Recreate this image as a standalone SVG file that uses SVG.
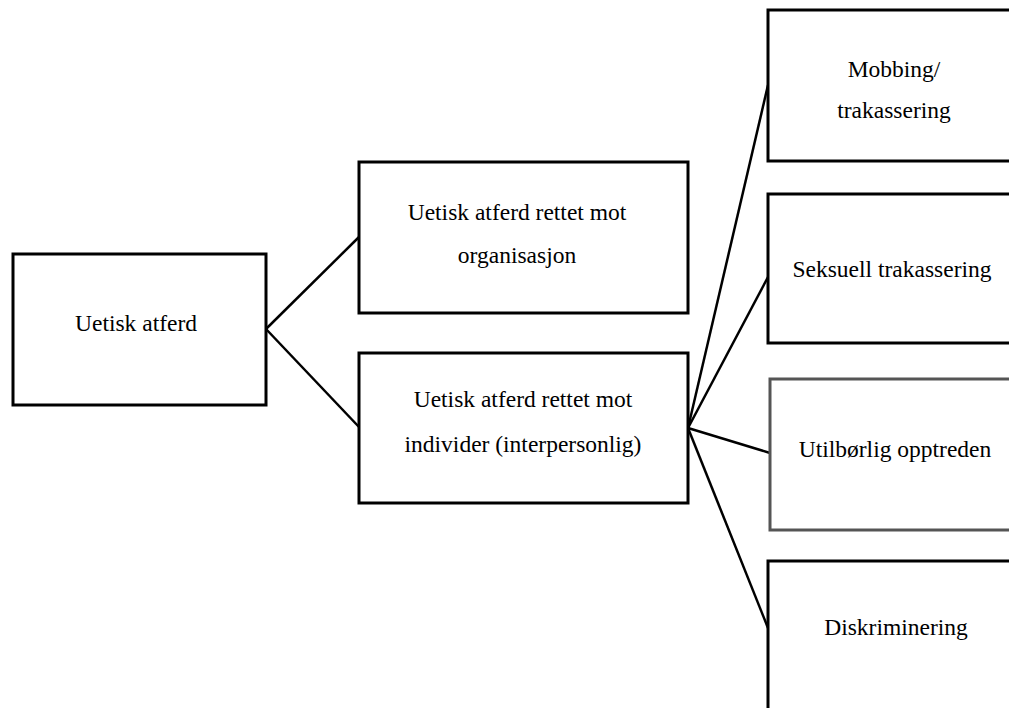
<svg xmlns="http://www.w3.org/2000/svg" width="1009" height="708" viewBox="0 0 1009 708">
<style>
.box{fill:#fff;stroke:#000;stroke-width:3}
.gray{stroke:#555}
.t{font-family:"Liberation Serif","Times New Roman",serif;font-size:23.5px;fill:#000;text-anchor:middle}
.c{stroke:#000;stroke-width:2.5;fill:none}
</style>
<rect width="1009" height="708" fill="#fff"/>
<g id="connectors">
<line class="c" x1="266" y1="329" x2="359" y2="237"/>
<line class="c" x1="266" y1="329" x2="359" y2="427"/>
<line class="c" x1="688" y1="428" x2="768" y2="85"/>
<line class="c" x1="688" y1="428" x2="768" y2="277"/>
<line class="c" x1="688" y1="428" x2="770" y2="453"/>
<line class="c" x1="688" y1="428" x2="768" y2="628"/>
</g>
<g id="n1">
<rect class="box" x="13" y="254" width="253" height="151"/>
<text class="t" x="136" y="331">Uetisk atferd</text>
</g>
<g id="n2">
<rect class="box" x="359" y="162" width="329" height="151"/>
<text class="t" x="517" y="220">Uetisk atferd rettet mot</text>
<text class="t" x="517" y="263">organisasjon</text>
</g>
<g id="n3">
<rect class="box" x="359" y="353" width="329" height="150"/>
<text class="t" x="523" y="407">Uetisk atferd rettet mot</text>
<text class="t" x="523" y="452">individer (interpersonlig)</text>
</g>
<g id="n4">
<rect class="box" x="768" y="10" width="260" height="151"/>
<text class="t" x="894" y="77">Mobbing/</text>
<text class="t" x="894" y="118">trakassering</text>
</g>
<g id="n5">
<rect class="box" x="768" y="194" width="260" height="149"/>
<text class="t" x="892" y="277">Seksuell trakassering</text>
</g>
<g id="n6">
<rect class="box gray" x="770" y="379" width="260" height="151"/>
<text class="t" x="895" y="457">Utilbørlig opptreden</text>
</g>
<g id="n7">
<rect class="box" x="768" y="561" width="260" height="160"/>
<text class="t" x="896" y="635">Diskriminering</text>
</g>
</svg>
